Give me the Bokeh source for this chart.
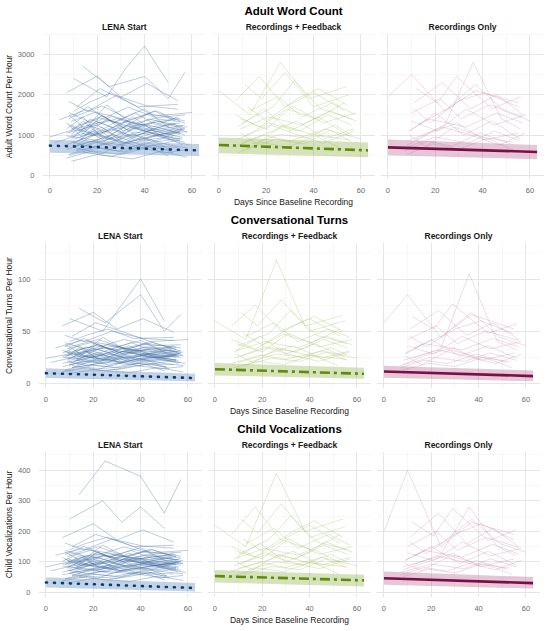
from bokeh.plotting import figure
from bokeh.layouts import column, row
from bokeh.models import Title, FixedTicker, Range1d
from bokeh.embed import file_html
from bokeh.resources import INLINE

# ---------------- labels ----------------
groups = ["LENA Start", "Recordings + Feedback", "Recordings Only"]
metrics = ["Adult Word Count", "Conversational Turns", "Child Vocalizations"]
y_titles = ["Adult Word Count Per Hour", "Conversational Turns Per Hour", "Child Vocalizations Per Hour"]
x_title = "Days Since Baseline Recording"

x_ticks = [0, 20, 40, 60]
x_minor = [10, 30, 50]
awc_ticks = [0, 1000, 2000, 3000]
awc_minor = [500, 1500, 2500, 3500]
ct_ticks = [0, 50, 100]
ct_minor = [25, 75, 125]
cv_ticks = [0, 100, 200, 300, 400]
cv_minor = [50, 150, 250, 350, 450]

# ---------------- model fits (line + ribbon), at day 0 and day 63 ----------------
fit_days = [0, 63]
lena_awc_fit = [738, 622]; lena_awc_lo = [565, 484]; lena_awc_hi = [885, 780]
fb_awc_fit = [755, 622];   fb_awc_lo = [548, 450];   fb_awc_hi = [942, 819]
ro_awc_fit = [696, 582];   ro_awc_lo = [500, 400];   ro_awc_hi = [893, 755]

lena_ct_fit = [9.7, 5.0];  lena_ct_lo = [5.0, 1.9];  lena_ct_hi = [14.5, 9.1]
fb_ct_fit = [13.5, 9.1];   fb_ct_lo = [7.5, 4.4];    fb_ct_hi = [19.5, 14.8]
ro_ct_fit = [11.3, 6.9];   ro_ct_lo = [5.4, 1.9];    ro_ct_hi = [16.7, 12.3]

lena_cv_fit = [33, 15];    lena_cv_lo = [17, 4];     lena_cv_hi = [49, 31]
fb_cv_fit = [54, 40];      fb_cv_lo = [33, 20];      fb_cv_hi = [74, 58]
ro_cv_fit = [47, 31];      ro_cv_lo = [26, 13];      ro_cv_hi = [69, 51]

# ---------------- individual family trajectories ----------------
lena_days = [
    [9, 20, 31, 43, 56], [7, 16, 27, 38, 54], [10, 22, 34, 45, 57], [8, 19, 29, 41, 52],
    [12, 24, 35, 47, 58], [2, 14, 26, 39, 55], [11, 21, 33, 44, 60], [7, 18, 30, 42, 50],
    [9, 17, 28, 40, 55], [13, 25, 36, 48, 57], [8, 15, 26, 37, 53], [10, 23, 32, 46, 56],
    [7, 20, 30, 41, 54], [14, 26, 38, 49, 58], [9, 19, 31, 44, 55], [0, 12, 25, 40, 56],
    [11, 22, 29, 43, 51], [8, 18, 33, 45, 57], [12, 21, 34, 42, 55], [7, 17, 27, 39, 52],
    [10, 24, 32, 40, 50], [9, 20, 35, 47, 58], [13, 23, 31, 44, 56], [8, 16, 28, 41, 54],
    [10, 21, 30, 46, 57], [4, 15, 27, 38, 55], [11, 25, 36, 48, 59], [7, 19, 29, 42, 53],
    [14, 25, 40, 50, 57], [9, 18, 32, 43, 55], [12, 22, 33, 45, 56], [8, 20, 31, 39, 51],
    [10, 17, 26, 37, 54], [7, 23, 34, 46, 58], [13, 24, 35, 44, 55], [9, 21, 30, 42, 57],
    [8, 14, 23, 33, 45, 56], [10, 18, 27, 36, 48, 57], [7, 13, 22, 31, 42, 54],
    [9, 16, 25, 35, 47, 55], [11, 19, 28, 39, 50, 58], [8, 15, 24, 34, 44, 53],
    [12, 20, 29, 38, 49, 57], [7, 14, 21, 32, 43, 55], [10, 17, 26, 37, 46, 56],
    [9, 18, 30, 40, 51, 57], [13, 22, 31, 41, 52, 58], [8, 16, 27, 36, 45, 54],
]
lena_awc = [
    [980, 1250, 870, 1120, 940], [640, 820, 1010, 760, 690], [1450, 1720, 1380, 1600, 1290],
    [520, 710, 600, 830, 560], [1130, 950, 1330, 1080, 1210], [810, 1040, 920, 690, 880],
    [1680, 2150, 1820, 1470, 1560], [430, 610, 520, 700, 480], [1020, 1390, 1160, 1270, 1050],
    [890, 760, 1080, 940, 1150], [1260, 1010, 1470, 1190, 980], [720, 930, 810, 1020, 760],
    [2050, 2460, 1940, 2280, 1850], [580, 470, 690, 560, 640], [1340, 1560, 1220, 1410, 1330],
    [950, 1180, 1370, 1090, 1240], [680, 540, 760, 880, 620], [1560, 1290, 1690, 1430, 1500],
    [1100, 1320, 980, 1180, 1020], [760, 980, 1140, 870, 960], [2400, 1950, 2650, 3200, 2300],
    [350, 520, 410, 600, 450], [1200, 860, 1050, 1310, 1100], [1830, 1590, 1980, 1720, 1640],
    [900, 1110, 790, 1000, 1170], [1380, 1620, 1460, 1250, 1420], [610, 800, 700, 920, 750],
    [1050, 1240, 1420, 1130, 1280], [2700, 2200, 2450, 1900, 2550], [840, 690, 950, 1070, 870],
    [1240, 1470, 1120, 1360, 1210], [500, 680, 590, 740, 620], [1590, 1820, 2050, 1700, 1760],
    [980, 840, 1190, 1010, 1090], [700, 890, 1020, 820, 930], [1150, 1420, 1290, 1530, 1350],
    [1050, 1350, 900, 1250, 1000, 1150], [780, 1100, 860, 1200, 940, 820],
    [1300, 980, 1500, 1100, 1400, 1200], [900, 1250, 1050, 1450, 980, 1100],
    [620, 850, 700, 950, 760, 680], [1500, 1150, 1750, 1300, 1600, 1350],
    [850, 1050, 1250, 950, 1150, 1000], [1150, 1450, 1000, 1350, 1200, 1300],
    [700, 950, 1150, 850, 1000, 900], [1250, 1000, 1400, 1650, 1150, 1250],
    [950, 1200, 800, 1100, 1300, 1050], [1400, 1700, 1300, 1550, 1250, 1450],
]
lena_ct = [
    [24, 31, 22, 28, 25], [16, 21, 26, 19, 18], [35, 42, 33, 39, 31], [13, 18, 15, 21, 14],
    [28, 23, 33, 27, 30], [20, 26, 23, 17, 22], [45, 58, 49, 40, 42], [11, 15, 13, 18, 12],
    [26, 35, 29, 32, 27], [22, 19, 27, 24, 29], [31, 25, 37, 30, 24], [18, 23, 20, 26, 19],
    [55, 68, 52, 62, 49], [14, 12, 17, 14, 16], [33, 39, 30, 35, 33], [24, 29, 34, 27, 31],
    [17, 13, 19, 22, 15], [39, 32, 42, 36, 37], [27, 33, 24, 29, 25], [19, 24, 28, 22, 24],
    [62, 50, 75, 100, 60], [9, 13, 10, 15, 11], [30, 21, 26, 33, 27], [46, 40, 50, 43, 41],
    [22, 28, 20, 25, 29], [34, 41, 37, 31, 35], [15, 20, 18, 23, 19], [26, 31, 36, 28, 32],
    [72, 58, 85, 50, 66], [21, 17, 24, 27, 22], [31, 37, 28, 34, 30], [12, 17, 15, 19, 16],
    [40, 46, 52, 43, 44], [25, 21, 30, 25, 27], [18, 22, 26, 21, 23], [29, 36, 32, 38, 34],
    [25, 34, 22, 31, 24, 28], [19, 27, 21, 30, 23, 20], [32, 24, 38, 27, 35, 30],
    [22, 31, 26, 36, 24, 27], [15, 21, 17, 24, 19, 17], [37, 28, 44, 32, 40, 34],
    [21, 26, 31, 23, 29, 25], [29, 36, 25, 34, 30, 32], [17, 23, 29, 21, 25, 22],
    [31, 25, 35, 41, 29, 31], [23, 30, 20, 27, 33, 26], [35, 43, 32, 39, 31, 36],
]
lena_cv = [
    [85, 110, 78, 98, 84], [58, 72, 90, 66, 61], [125, 150, 118, 140, 112], [46, 62, 53, 72, 49],
    [98, 83, 116, 94, 105], [71, 92, 81, 60, 77], [150, 190, 162, 130, 138], [38, 54, 46, 62, 42],
    [90, 122, 102, 112, 92], [78, 67, 95, 83, 101], [110, 88, 129, 104, 86], [63, 82, 71, 90, 67],
    [180, 225, 172, 205, 165], [51, 41, 61, 49, 56], [118, 138, 107, 124, 117], [84, 104, 121, 96, 109],
    [60, 47, 67, 78, 55], [138, 114, 149, 126, 132], [97, 116, 86, 104, 90], [67, 86, 100, 77, 85],
    [240, 300, 230, 280, 210], [31, 46, 36, 53, 40], [106, 76, 92, 115, 97], [162, 140, 175, 152, 145],
    [79, 98, 70, 88, 103], [122, 143, 129, 110, 125], [54, 70, 62, 81, 66], [92, 109, 125, 100, 113],
    [320, 430, 380, 260, 370], [74, 61, 84, 94, 77], [109, 130, 99, 120, 107], [44, 60, 52, 65, 55],
    [140, 161, 181, 150, 155], [86, 74, 105, 89, 96], [62, 78, 90, 72, 82], [101, 125, 114, 135, 119],
    [90, 120, 80, 110, 88, 100], [70, 98, 77, 107, 84, 73], [115, 87, 133, 98, 124, 107],
    [80, 111, 93, 129, 87, 98], [55, 76, 62, 85, 68, 61], [133, 102, 155, 116, 142, 120],
    [76, 93, 111, 85, 102, 89], [102, 129, 89, 120, 107, 116], [62, 85, 102, 76, 89, 80],
    [111, 89, 124, 147, 102, 111], [85, 107, 71, 98, 116, 93], [124, 151, 116, 138, 111, 129],
]

fb_days = [
    [8, 19, 30, 42, 55], [10, 22, 33, 45, 57], [7, 17, 28, 40, 53], [12, 24, 36, 47, 56],
    [9, 20, 31, 44, 58], [0, 13, 26, 38, 54], [11, 21, 34, 46, 56], [8, 18, 29, 41, 52],
    [13, 25, 35, 48, 57], [9, 16, 27, 39, 55], [10, 23, 32, 43, 56], [7, 19, 30, 45, 60],
    [12, 20, 33, 42, 54], [8, 22, 31, 44, 57], [11, 18, 28, 40, 55], [9, 21, 35, 47, 58],
    [14, 26, 37, 49, 56], [7, 17, 29, 41, 53],
]
fb_awc = [
    [1200, 1650, 1100, 1450, 980], [820, 1080, 1350, 920, 1150], [1850, 2450, 1700, 2050, 1600],
    [650, 900, 780, 1120, 840], [1400, 1150, 1720, 1300, 1550], [2100, 1500, 2800, 1900, 2200],
    [980, 1300, 1100, 1500, 1250], [560, 820, 700, 980, 650], [1600, 1950, 1450, 1800, 1520],
    [1050, 780, 1250, 1020, 880], [1300, 1700, 2350, 1650, 1400], [720, 1000, 850, 1150, 900],
    [1700, 1350, 1900, 2150, 1750], [900, 1250, 1050, 800, 1100], [2250, 1900, 2550, 1700, 2000],
    [1150, 1450, 1250, 1600, 1350], [780, 1020, 920, 1250, 1000], [1500, 1200, 1650, 1400, 1800],
]
fb_ct = [
    [30, 45, 28, 38, 25], [20, 28, 36, 24, 31], [55, 75, 50, 62, 45], [17, 24, 21, 30, 22],
    [38, 30, 48, 35, 42], [60, 42, 118, 55, 65], [26, 35, 30, 42, 34], [15, 21, 18, 27, 17],
    [45, 58, 40, 52, 44], [28, 20, 34, 27, 23], [36, 48, 70, 46, 38], [19, 27, 23, 31, 24],
    [48, 37, 55, 64, 50], [24, 34, 28, 21, 30], [68, 55, 80, 50, 60], [31, 40, 34, 45, 37],
    [20, 28, 25, 34, 27], [42, 33, 47, 39, 52],
]
fb_cv = [
    [110, 160, 100, 140, 90], [80, 105, 135, 90, 115], [190, 280, 170, 220, 160], [60, 85, 75, 110, 80],
    [135, 110, 175, 125, 150], [220, 150, 390, 200, 240], [95, 130, 110, 155, 125], [55, 80, 68, 100, 62],
    [160, 210, 145, 190, 155], [100, 75, 125, 98, 85], [125, 175, 250, 165, 140], [70, 98, 82, 115, 88],
    [175, 135, 200, 235, 180], [88, 125, 102, 78, 110], [240, 195, 290, 180, 215], [112, 145, 122, 165, 132],
    [75, 100, 90, 125, 98], [150, 118, 170, 140, 190],
]

ro_days = [
    [9, 20, 32, 44, 56], [8, 18, 29, 41, 55], [11, 23, 35, 46, 57], [7, 17, 27, 39, 52],
    [10, 21, 33, 45, 58], [0, 10, 24, 37, 55], [12, 24, 36, 48, 56], [8, 19, 30, 42, 54],
    [10, 22, 31, 43, 57], [9, 16, 28, 40, 53], [13, 25, 37, 49, 60], [7, 20, 34, 45, 56],
    [11, 18, 30, 41, 55], [8, 23, 35, 47, 58], [12, 21, 29, 44, 56], [9, 17, 33, 46, 57],
]
ro_awc = [
    [1100, 1550, 1000, 1350, 900], [750, 1050, 1300, 880, 1050], [1800, 2300, 1650, 2000, 1500],
    [600, 850, 720, 1050, 780], [1350, 1100, 1650, 1250, 1500], [1950, 2500, 1600, 2100, 1800],
    [900, 1250, 2800, 1400, 1150], [520, 780, 650, 920, 600], [1550, 1900, 1400, 1750, 1450],
    [1000, 720, 1200, 950, 820], [1250, 1650, 2250, 1600, 1350], [680, 950, 800, 1100, 850],
    [1650, 1300, 1850, 2050, 1700], [850, 1200, 1000, 750, 1050], [2150, 1800, 2450, 1650, 1950],
    [1100, 1400, 1200, 1550, 1300],
]
ro_ct = [
    [28, 42, 26, 36, 24], [18, 27, 34, 22, 29], [52, 70, 46, 58, 42], [15, 22, 19, 28, 20],
    [36, 28, 45, 33, 40], [58, 85, 44, 66, 52], [24, 33, 105, 40, 32], [13, 19, 16, 25, 15],
    [42, 55, 38, 50, 41], [26, 18, 32, 25, 21], [34, 46, 68, 44, 36], [17, 25, 21, 29, 22],
    [45, 35, 52, 60, 47], [22, 32, 26, 19, 28], [64, 52, 76, 48, 57], [29, 38, 32, 43, 35],
]
ro_cv = [
    [105, 150, 95, 135, 88], [75, 100, 128, 85, 110], [180, 260, 160, 210, 150], [58, 82, 70, 105, 76],
    [130, 105, 165, 120, 145], [200, 400, 150, 230, 190], [90, 125, 280, 150, 120], [52, 76, 64, 95, 60],
    [150, 200, 138, 180, 148], [95, 72, 120, 93, 80], [120, 165, 240, 160, 132], [66, 93, 78, 110, 84],
    [165, 128, 190, 225, 172], [84, 118, 98, 74, 105], [230, 185, 275, 170, 205], [106, 138, 116, 158, 126],
]

# ---------------- assembly ----------------
FONT = "Liberation Sans"
days_by_group = [lena_days, fb_days, ro_days]
traj = [
    [lena_awc, fb_awc, ro_awc],
    [lena_ct, fb_ct, ro_ct],
    [lena_cv, fb_cv, ro_cv],
]
fits = [
    [(lena_awc_fit, lena_awc_lo, lena_awc_hi), (fb_awc_fit, fb_awc_lo, fb_awc_hi), (ro_awc_fit, ro_awc_lo, ro_awc_hi)],
    [(lena_ct_fit, lena_ct_lo, lena_ct_hi), (fb_ct_fit, fb_ct_lo, fb_ct_hi), (ro_ct_fit, ro_ct_lo, ro_ct_hi)],
    [(lena_cv_fit, lena_cv_lo, lena_cv_hi), (fb_cv_fit, fb_cv_lo, fb_cv_hi), (ro_cv_fit, ro_cv_lo, ro_cv_hi)],
]
y_ranges = [(-100, 3515), (-5, 135), (-16, 461)]
y_tick_sets = [(awc_ticks, awc_minor), (ct_ticks, ct_minor), (cv_ticks, cv_minor)]

traj_colors = ["#3a6aa3", "#9cbb5a", "#c27aa1"]
traj_alpha = [0.42, 0.42, 0.38]
traj_width = [0.8, 0.7, 0.7]
band_colors = ["#7096c4", "#93b24c", "#b8638f"]
band_alpha = [0.42, 0.38, 0.36]
line_colors = ["#0b3a78", "#5e8c06", "#7a0e47"]
line_dashes = ["1 7", "10 4 3 4", "solid"]

FRAME_W, FRAME_H = 164, 146


def make_panel(r, c):
    p = figure(frame_width=FRAME_W, frame_height=FRAME_H, output_backend="svg",
               toolbar_location=None, title=None,
               x_range=Range1d(-3.15, 66.15), y_range=Range1d(*y_ranges[r]),
               min_border_left=(2 if c == 0 else 5), min_border_right=0,
               min_border_top=32, min_border_bottom=27)
    p.outline_line_color = None
    p.background_fill_color = "white"

    # trajectories
    p.multi_line(xs=days_by_group[c], ys=traj[r][c], line_color=traj_colors[c],
                 line_alpha=traj_alpha[c], line_width=traj_width[c])
    fit, lo, hi = fits[r][c]
    p.varea(x=fit_days, y1=lo, y2=hi, fill_color=band_colors[c], fill_alpha=band_alpha[c])
    p.line(x=fit_days, y=fit, line_color=line_colors[c], line_width=2.6,
           line_dash=line_dashes[c], line_cap="round" if c == 0 else "butt")

    # axes & grid
    yt, ym = y_tick_sets[r]
    p.xaxis.ticker = FixedTicker(ticks=x_ticks, minor_ticks=x_minor)
    p.yaxis.ticker = FixedTicker(ticks=yt, minor_ticks=ym)
    p.xgrid.ticker = FixedTicker(ticks=x_ticks, minor_ticks=x_minor)
    p.ygrid.ticker = FixedTicker(ticks=yt, minor_ticks=ym)
    for g in (p.xgrid, p.ygrid):
        g.grid_line_color = "#e6e6e6"
        g.grid_line_width = 1
        g.minor_grid_line_color = "#f2f2f2"
        g.minor_grid_line_width = 0.6
    for ax in (p.xaxis, p.yaxis):
        ax.axis_line_color = None
        ax.major_tick_line_color = None
        ax.minor_tick_line_color = None
        ax.major_label_text_font = FONT
        ax.major_label_text_font_size = "7.5px"
        ax.major_label_text_color = "#6b6b6b"
        ax.major_label_standoff = 2
        ax.axis_label_text_font = FONT
        ax.axis_label_text_font_size = "8.5px"
        ax.axis_label_text_font_style = "normal"
        ax.axis_label_text_color = "#1a1a1a"
        ax.axis_label_standoff = 1
    if c == 0:
        p.yaxis.axis_label = y_titles[r]
    else:
        p.yaxis.visible = False
    if c == 1:
        p.xaxis.axis_label = x_title

    p.add_layout(Title(text=groups[c], align="center", text_font=FONT, text_font_size="8.5px",
                       text_font_style="bold", text_color="#1a1a1a", standoff=3), "above")
    if c == 1:
        p.add_layout(Title(text=metrics[r], align="center", text_font=FONT, text_font_size="11.5px",
                           text_font_style="bold", text_color="#000000", standoff=4), "above")
    return p


rows = [row(*[make_panel(r, c) for c in range(3)]) for r in range(3)]
layout = column(*rows)

with open("out.html", "w") as f:
    f.write(file_html(layout, INLINE))
